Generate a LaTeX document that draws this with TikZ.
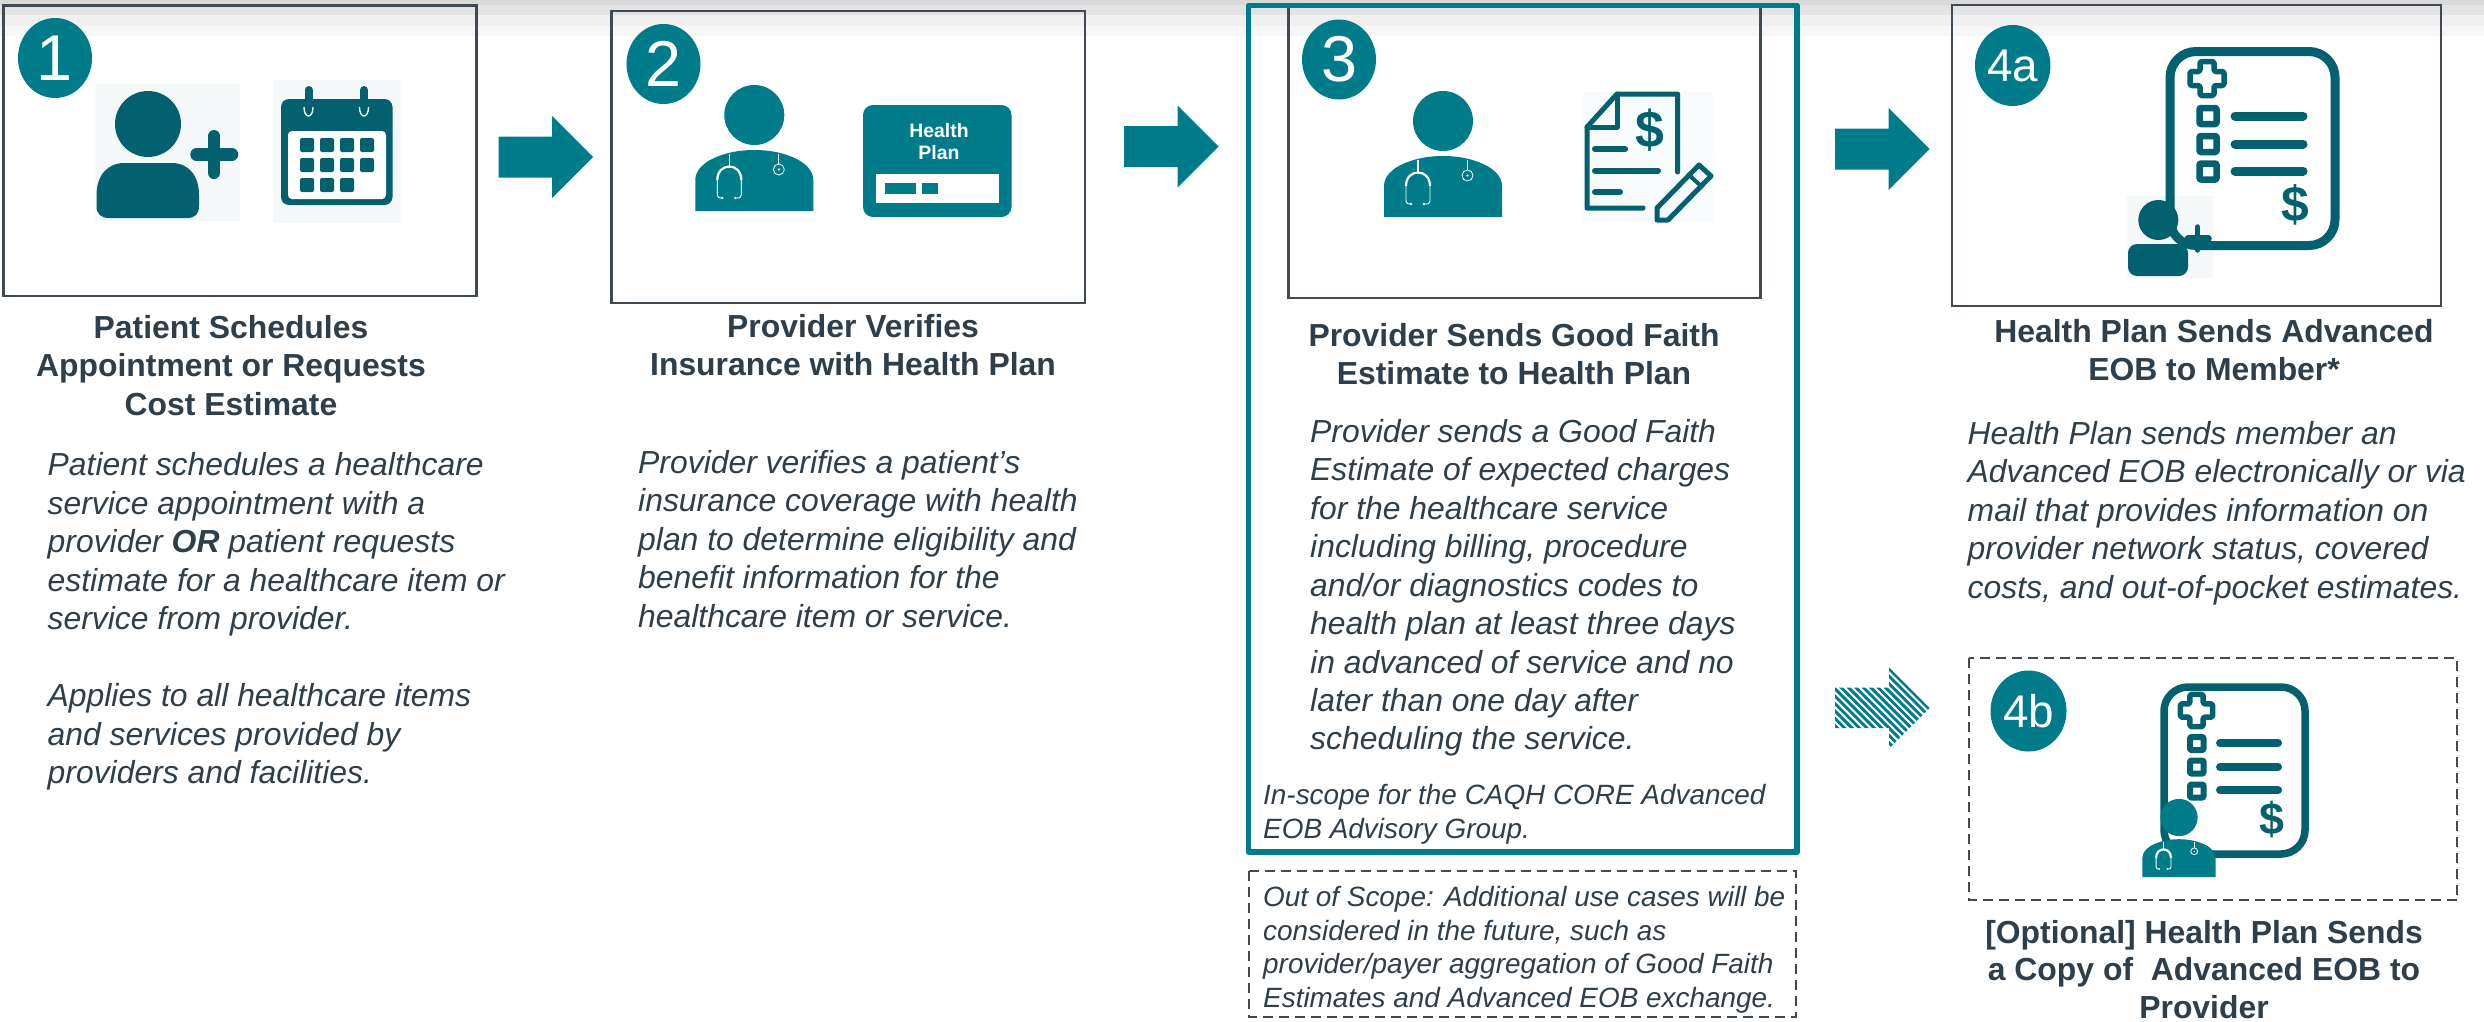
\documentclass[tikz,border=0pt]{standalone}
\usepackage{fontspec}
\setmainfont{Liberation Sans}
\usetikzlibrary{shapes.geometric}
\definecolor{teal}{HTML}{007B8A}
\definecolor{deepteal}{HTML}{02606F}
\definecolor{ink}{HTML}{2F3E4B}
\definecolor{boxline}{HTML}{3F4A55}
\definecolor{patch}{HTML}{F4F8F9}
\tikzset{
  x=1bp,y=-1bp,
  framebox/.style={draw=boxline,line width=2.4bp},
  dashbox/.style={draw=boxline,line width=2bp,dash pattern=on 10bp off 6bp},
  stepcircle/.style={ellipse,fill=teal,text=white,inner sep=0pt,minimum width=74bp,minimum height=80bp},
  bignum/.style={font=\fontsize{65}{65}\selectfont},
  smallnum/.style={font=\fontsize{46}{46}\selectfont},
  titletext/.style={anchor=north,align=center,inner sep=0pt,text=ink,font=\fontsize{32}{38.5}\selectfont\bfseries},
  bodytext/.style={anchor=north west,align=left,inner sep=0pt,text=ink,font=\fontsize{32}{38.6}\selectfont\itshape},
  smalltext/.style={anchor=north west,align=left,inner sep=0pt,text=ink,font=\fontsize{28}{33.8}\selectfont\itshape},
  icon/.style={fill=deepteal,draw=none},
  iconline/.style={draw=deepteal,line cap=round,line join=round},
  pics/blockarrow/.style={code={\fill[pic actions] (0,-20.5) -- (53.5,-20.5) -- (53.5,-41) -- (94.5,0) -- (53.5,41) -- (53.5,20.5) -- (0,20.5) -- cycle;}},
  pics/doctor/.style={code={
    \fill[teal] (0,0) ellipse [x radius=30,y radius=30];
    \fill[teal] (-59,96) -- (-59,65) .. controls (-59,56) and (-52,50) .. (-46,46) .. controls (-32,38) and (-16,35) .. (0,35) .. controls (16,35) and (32,38) .. (46,46) .. controls (52,50) and (59,56) .. (59,65) -- (59,96) -- cycle;
    \draw[white,line width=1.3bp] (-25,39) -- (-25,53);
    \draw[white,line width=2.2bp] (-37,65) .. controls (-37,47) and (-13,47) .. (-13,65);
    \draw[white,line width=.9bp] (-37,65) -- (-37,80) .. controls (-37,83) and (-35,83) .. (-32,83);
    \draw[white,line width=.9bp] (-13,65) -- (-13,80) .. controls (-13,83) and (-15,83) .. (-19,83);
    \fill[white] (-32,83) circle (1.4);
    \fill[white] (-19,83) circle (1.4);
    \draw[white,line width=.8bp] (24.5,39) -- (24.5,49);
    \draw[white,line width=.8bp] (24.5,54.5) ellipse [x radius=5.5,y radius=5.5];
    \fill[white] (24.5,54.5) circle (1.2);
  }},
  pics/crossmark/.style={code={
    \draw[iconline,line width=5.5bp,fill=white,rounded corners=1.5bp] (-7,-17) -- (7,-17) -- (7,-7) -- (17,-7) -- (17,7) -- (7,7) -- (7,17) -- (-7,17) -- (-7,7) -- (-17,7) -- (-17,-7) -- (-7,-7) -- cycle;
  }},
}
\begin{document}
\begin{tikzpicture}
\useasboundingbox (0,0) rectangle (2484,1021);
\fill[white] (0,0) rectangle (2484,1021);
% top shading
\fill[black!15] (0,0) rectangle (2484,5);
\fill[black!11] (0,5) rectangle (2484,15);
\fill[black!6] (0,15) rectangle (2484,26);
\fill[black!3] (0,26) rectangle (2484,36);

% frames
\draw[framebox] (3.5,5.5) rectangle (476.5,296);
\draw[framebox] (611.5,11) rectangle (1085,303);
\draw[framebox] (1288.5,6) rectangle (1760.5,298);
\draw[framebox] (1952,5) rectangle (2441,306);
\draw[draw=teal,line width=5.5bp,line join=round] (1248.5,5.5) rectangle (1797,852);
\draw[dashbox] (1248.5,871) rectangle (1796,1016.5);
\draw[dashbox] (1968.5,658) rectangle (2457,900);

% step badges
\node[stepcircle,bignum] (n1) at (55,58) {1};
\node[stepcircle,bignum] (n2) at (663.5,64) {2};
\node[stepcircle,bignum] (n3) at (1339,59.5) {3};
\node[stepcircle,smallnum,minimum width=75.5bp,minimum height=81bp] (n4a) at (2012.7,65.5) {4a};
\node[stepcircle,smallnum,minimum width=76bp,minimum height=81bp] (n4b) at (2028.5,711) {4b};

% arrows
\pic[fill=teal] at (498.5,157) {blockarrow};
\pic[fill=teal] at (1124,146.5) {blockarrow};
\pic[fill=teal] at (1835,149) {blockarrow};
\begin{scope}
  \clip (1835,687.5) -- (1889,687.5) -- (1889,667.5) -- (1929.5,708) -- (1889,748.5) -- (1889,728) -- (1835,728) -- cycle;
  \foreach \k in {0,...,34}{
    \draw[teal,line width=2.9bp] ({1710+7.4*\k},660) -- ({1810+7.4*\k},760);
  }
\end{scope}

% icon 1: person plus
\fill[patch] (95,84) rectangle (240,221);
\fill[icon] (148,124) ellipse [x radius=33,y radius=33];
\fill[icon] (96.5,198) -- (96.5,206) .. controls (96.5,214) and (101,218) .. (109,218) -- (187,218) .. controls (195,218) and (199,214) .. (199,206) -- (199,195) .. controls (199,175) and (188,163) .. (172,163) -- (124,163) .. controls (108,163) and (96.5,175) .. (96.5,195) -- cycle;
\draw[iconline,line width=12.5bp] (196.5,154.5) -- (232,154.5);
\draw[iconline,line width=12bp] (214,136) -- (214,173);
% icon 1: calendar
\fill[patch] (273,80) rectangle (401,223);
\fill[icon,rounded corners=8bp] (281,99) rectangle (392.5,205);
\fill[white,rounded corners=4bp] (288,131) -- (386,131) -- (386,199) -- (288,199) -- cycle;
\draw[iconline,line width=8bp] (308.5,90) -- (308.5,108);
\draw[iconline,line width=8bp] (364,90) -- (364,108);
\draw[white,line width=1.3bp] (304,107) .. controls (304,119) and (313,119) .. (313,107);
\draw[white,line width=1.3bp] (359.5,107) .. controls (359.5,119) and (368.5,119) .. (368.5,107);
\foreach \cx/\cy in {300/138,320/138,340/138,360/138,300/158,320/158,340/158,360/158,300/178,320/178,340/178}{
  \fill[icon,rounded corners=2bp] (\cx,\cy) rectangle ++(14,14);
}

% icon 2
\pic at (754.3,115) {doctor};
\fill[teal,rounded corners=10bp] (863,105) rectangle (1011.5,217);
\fill[white] (876,174) rectangle (999,203);
\fill[teal] (885,183) rectangle (916,194);
\fill[teal] (921.5,183) rectangle (938,194);
\node[inner sep=0pt,text=white,align=center,font=\fontsize{19.5}{22}\selectfont\bfseries] (cardlabel) at (939,142) {Health\\Plan};

% icon 3
\pic at (1443,121) {doctor};
\fill[patch!60] (1583,92) rectangle (1712.5,222);
\draw[iconline,line width=5bp] (1677.5,172) -- (1677.5,94) -- (1617,94) -- (1587,127) -- (1587,208) -- (1643,208);
\draw[iconline,line width=5bp] (1617,94) -- (1617,127) -- (1587,127);
\draw[iconline,line width=6bp] (1595,149) -- (1625,149);
\draw[iconline,line width=6bp] (1595,170.5) -- (1658,170.5);
\draw[iconline,line width=6bp] (1595,192) -- (1620,192);
\node[inner sep=0pt,text=deepteal,font=\fontsize{52}{52}\selectfont\bfseries] (dollar3) at (1650,130) {\$};
\draw[iconline,line width=5bp] (1657,208) -- (1699,165) -- (1711,176) -- (1668,220) -- (1657,220) -- cycle;
\draw[iconline,line width=4bp] (1689,175) -- (1701,186);

% icon 4a
\fill[patch] (2127,196) rectangle (2213,278);
\fill[icon] (2158.3,220) ellipse [x radius=20,y radius=20];
\fill[icon,rounded corners=9bp] (2128,244) rectangle (2188,276);
\draw[iconline,line width=6.5bp] (2188,238.5) -- (2208.5,238.5);
\draw[iconline,line width=5.5bp] (2197.5,227) -- (2197.5,250);
\draw[iconline,line width=9bp,rounded corners=26bp] (2170,51.5) rectangle (2335,245.5);
\pic at (2207,78.5) {crossmark};
\foreach \cy in {116,144,171.5}{
  \draw[iconline,line width=6.5bp,rounded corners=1bp] (2199.5,\cy-8) rectangle (2216.5,\cy+8);
}
\foreach \cy in {116,144,171}{
  \draw[iconline,line width=9bp] (2235,\cy) -- (2303,\cy);
}
\node[inner sep=0pt,text=deepteal,font=\fontsize{50}{50}\selectfont\bfseries] (dollar4a) at (2295,205) {\$};

% icon 4b
\draw[iconline,line width=7.5bp,rounded corners=24bp] (2164,687) rectangle (2305,854);
\pic[scale=.95] at (2196.5,710.5) {crossmark};
\foreach \cy in {743.5,767,791}{
  \draw[iconline,line width=6bp,rounded corners=1bp] (2190,\cy-6.5) rectangle (2203.5,\cy+6.5);
}
\foreach \cy in {743,767,790}{
  \draw[iconline,line width=8bp] (2220,\cy) -- (2278,\cy);
}
\node[inner sep=0pt,text=deepteal,font=\fontsize{45}{45}\selectfont\bfseries] (dollar4b) at (2271.7,820) {\$};
\pic[scale=.62] at (2179,817.5) {doctor};

% titles
\node[titletext] (t1) at (231,315) {Patient Schedules\\Appointment or Requests\\Cost Estimate};
\node[titletext] (t2) at (853,314) {Provider Verifies\\Insurance with Health Plan};
\node[titletext] (t3) at (1514,323) {Provider Sends Good Faith\\Estimate to Health Plan};
\node[titletext] (t4a) at (2214,319) {Health Plan Sends Advanced\\EOB to Member*};
\node[titletext,font=\fontsize{32}{37.5}\selectfont\bfseries] (t4b) at (2204,920) {[Optional] Health Plan Sends\\a Copy of\ \ Advanced EOB to\\Provider};

% bodies
\node[bodytext] (b1) at (47.5,452.5) {Patient schedules a healthcare\\service appointment with a\\provider \textbf{OR} patient requests\\estimate for a healthcare item or\\service from provider.\\[38.6bp]Applies to all healthcare items\\and services provided by\\providers and facilities.};
\node[bodytext] (b2) at (638,450) {Provider verifies a patient’s\\insurance coverage with health\\plan to determine eligibility and\\benefit information for the\\healthcare item or service.};
\node[bodytext] (b3) at (1310,419) {Provider sends a Good Faith\\Estimate of expected charges\\for the healthcare service\\including billing, procedure\\and/or diagnostics codes to\\health plan at least three days\\in advanced of service and no\\later than one day after\\scheduling the service.};
\node[bodytext] (b4a) at (1967.5,421) {Health Plan sends member an\\Advanced EOB electronically or via\\mail that provides information on\\provider network status, covered\\costs, and out-of-pocket estimates.};
\node[smalltext] (scopein) at (1263,784) {In-scope for the CAQH CORE Advanced\\EOB Advisory Group.};
\node[smalltext] (scopeout) at (1263,886) {Out of Scope: Additional use cases will be\\considered in the future, such as\\provider/payer aggregation of Good Faith\\Estimates and Advanced EOB exchange.};
\end{tikzpicture}
\end{document}
